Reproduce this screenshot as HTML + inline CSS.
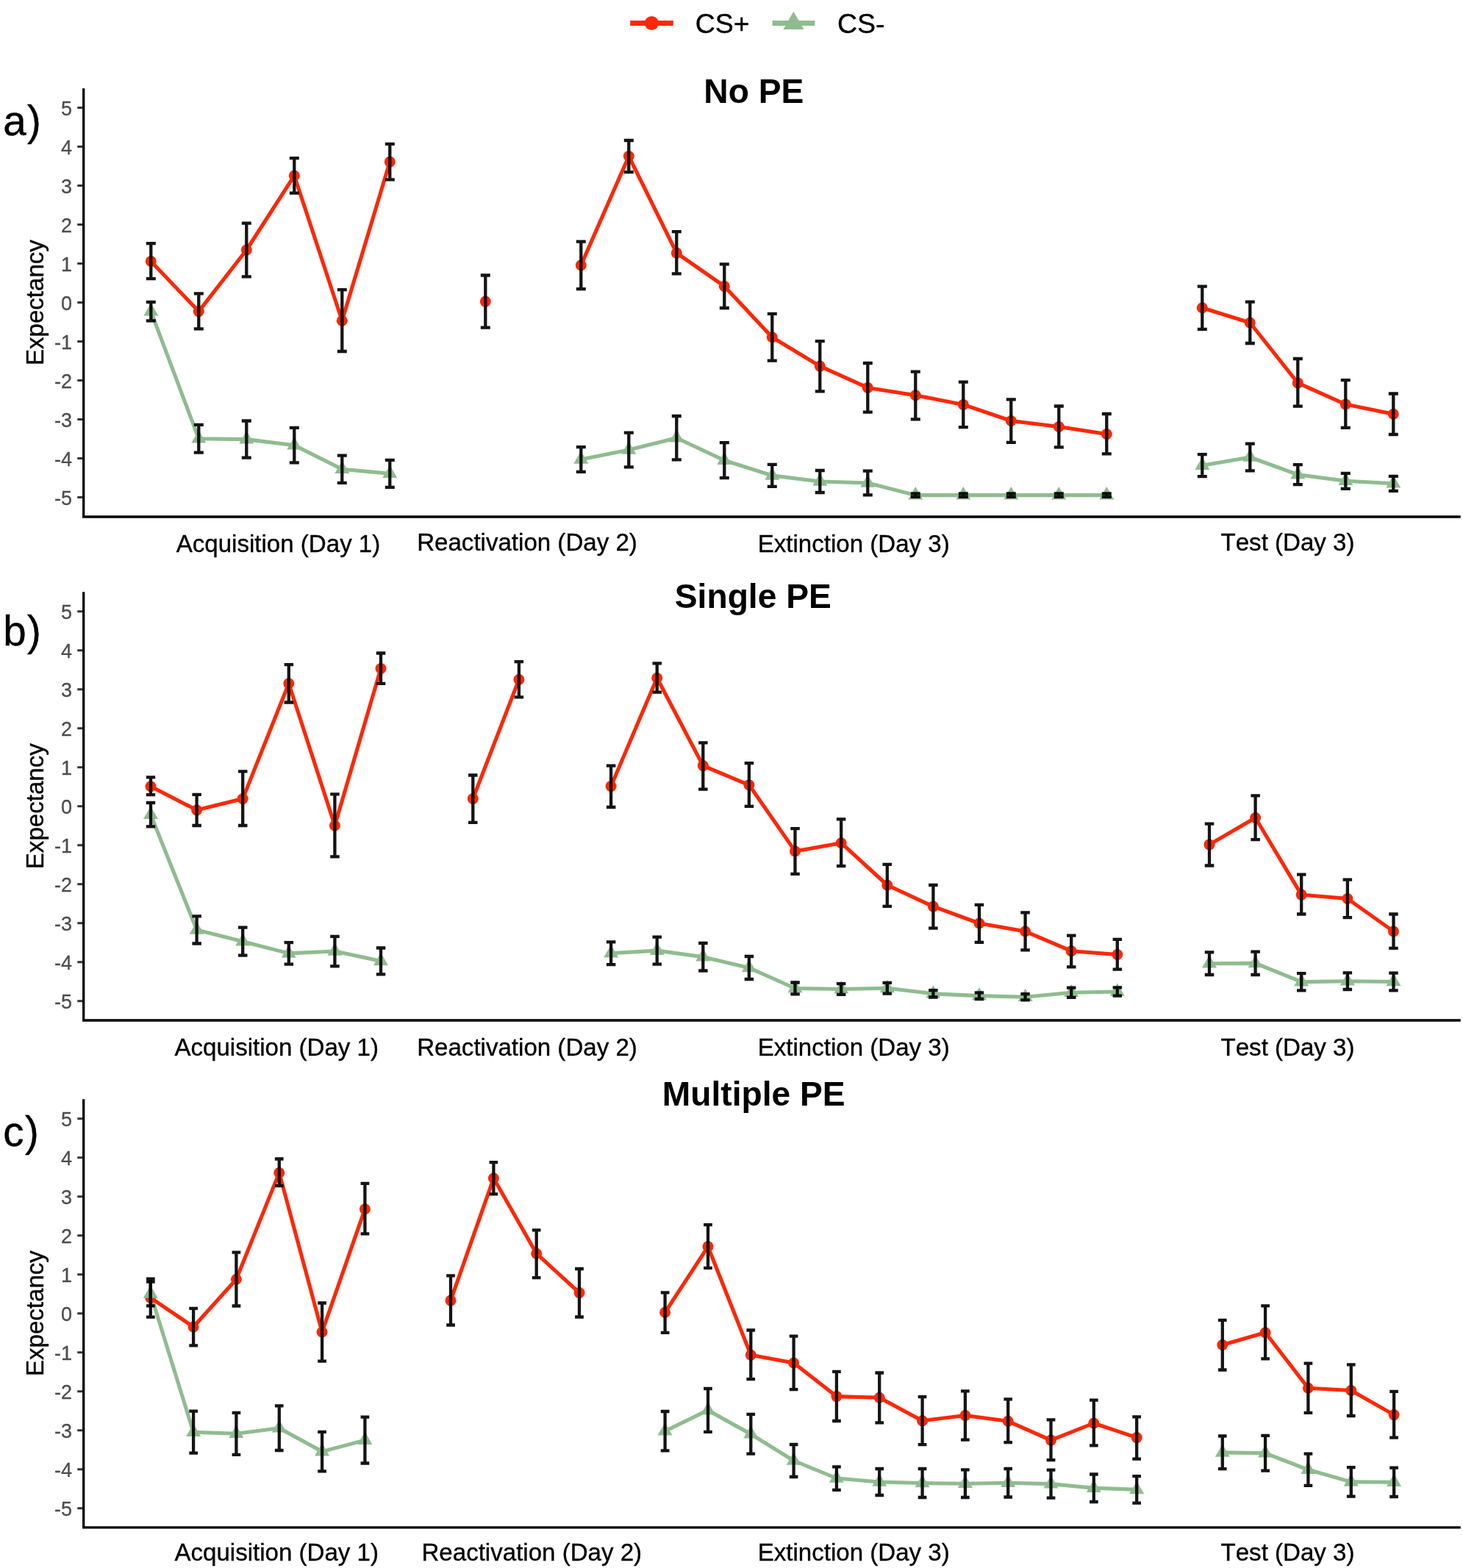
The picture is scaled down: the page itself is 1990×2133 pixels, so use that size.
<!DOCTYPE html>
<html lang="en">
<head>
<meta charset="utf-8">
<title>Expectancy ratings: No PE, Single PE, Multiple PE</title>
<style>
html,body{margin:0;padding:0;background:#fff;}
body{width:1990px;height:2133px;}
svg{display:block;}
text{font-family:"Liberation Sans",Arial,Helvetica,sans-serif;fill:#000;font-kerning:none;}
.leg{font-size:37.5px;stroke:#000;stroke-width:0.35px;}
.tk{font-size:27px;fill:#4D4D4D;text-anchor:end;stroke:#4D4D4D;stroke-width:0.3px;}
.ax{font-size:33.1px;stroke:#000;stroke-width:0.35px;}
.ttl{font-size:46.2px;font-weight:bold;}
.tag{font-size:56.5px;letter-spacing:1.5px;stroke:#000;stroke-width:0.4px;}
</style>
</head>
<body>
<svg width="1990" height="2133" viewBox="0 0 1990 2133" role="img" aria-label="Expectancy ratings for CS+ and CS- across Acquisition, Reactivation, Extinction and Test in the No PE, Single PE and Multiple PE groups">
<rect width="1990" height="2133" fill="#fff"/>
<g id="legend">
<line x1="857.2" y1="31.6" x2="915.8" y2="31.6" stroke="#FB2808" stroke-width="7"/>
<circle cx="886.4" cy="31.5" r="9.6" fill="#FB2808"/>
<text class="leg" x="945.7" y="44.6">CS+</text>
<line x1="1050.6" y1="31.6" x2="1108.4" y2="31.6" stroke="#8FBC8F" stroke-width="7"/>
<path d="M1079.4 15.7L1093.4 40L1065.4 40Z" fill="#8FBC8F"/>
<text class="leg" x="1138.9" y="44.6">CS-</text>
</g>
<g class="panel">
<polyline points="205.3,423.6 270.3,596.8 335.3,597.6 400.3,605.7 465.3,638.3 530.3,644.3" fill="none" stroke="#8FBC8F" stroke-width="5.1" stroke-linejoin="round" stroke-linecap="butt"/>
<polyline points="790.3,624.9 855.3,612 920.3,595.7 985.3,626.2 1050.3,646.9 1115.3,655 1180.3,657 1245.3,673.6 1310.3,673.6 1375.3,673.6 1440.3,673.6 1505.3,673.6" fill="none" stroke="#8FBC8F" stroke-width="5.1" stroke-linejoin="round" stroke-linecap="butt"/>
<polyline points="1635.3,633.2 1700.3,622 1765.3,645.7 1830.3,654.3 1895.3,657.8" fill="none" stroke="#8FBC8F" stroke-width="5.1" stroke-linejoin="round" stroke-linecap="butt"/>
<polyline points="205.3,355.4 270.3,423.6 335.3,340 400.3,239 465.3,436.2 530.3,220.1" fill="none" stroke="#FB2808" stroke-width="5.1" stroke-linejoin="round" stroke-linecap="butt"/>
<polyline points="790.3,360.8 855.3,212.5 920.3,344.1 985.3,389.4 1050.3,458.8 1115.3,498.1 1180.3,527.4 1245.3,537.7 1310.3,550.4 1375.3,572.5 1440.3,580.5 1505.3,590.5" fill="none" stroke="#FB2808" stroke-width="5.1" stroke-linejoin="round" stroke-linecap="butt"/>
<polyline points="1635.3,418.8 1700.3,439 1765.3,520.9 1830.3,550 1895.3,563.2" fill="none" stroke="#FB2808" stroke-width="5.1" stroke-linejoin="round" stroke-linecap="butt"/>
<circle cx="205.3" cy="355.4" r="7.5" fill="#FB2808"/>
<circle cx="270.3" cy="423.6" r="7.5" fill="#FB2808"/>
<circle cx="335.3" cy="340" r="7.5" fill="#FB2808"/>
<circle cx="400.3" cy="239" r="7.5" fill="#FB2808"/>
<circle cx="465.3" cy="436.2" r="7.5" fill="#FB2808"/>
<circle cx="530.3" cy="220.1" r="7.5" fill="#FB2808"/>
<circle cx="660.3" cy="410.1" r="7.5" fill="#FB2808"/>
<circle cx="790.3" cy="360.8" r="7.5" fill="#FB2808"/>
<circle cx="855.3" cy="212.5" r="7.5" fill="#FB2808"/>
<circle cx="920.3" cy="344.1" r="7.5" fill="#FB2808"/>
<circle cx="985.3" cy="389.4" r="7.5" fill="#FB2808"/>
<circle cx="1050.3" cy="458.8" r="7.5" fill="#FB2808"/>
<circle cx="1115.3" cy="498.1" r="7.5" fill="#FB2808"/>
<circle cx="1180.3" cy="527.4" r="7.5" fill="#FB2808"/>
<circle cx="1245.3" cy="537.7" r="7.5" fill="#FB2808"/>
<circle cx="1310.3" cy="550.4" r="7.5" fill="#FB2808"/>
<circle cx="1375.3" cy="572.5" r="7.5" fill="#FB2808"/>
<circle cx="1440.3" cy="580.5" r="7.5" fill="#FB2808"/>
<circle cx="1505.3" cy="590.5" r="7.5" fill="#FB2808"/>
<circle cx="1635.3" cy="418.8" r="7.5" fill="#FB2808"/>
<circle cx="1700.3" cy="439" r="7.5" fill="#FB2808"/>
<circle cx="1765.3" cy="520.9" r="7.5" fill="#FB2808"/>
<circle cx="1830.3" cy="550" r="7.5" fill="#FB2808"/>
<circle cx="1895.3" cy="563.2" r="7.5" fill="#FB2808"/>
<path d="M205.3 412.1L215.3 429.4L195.3 429.4Z" fill="#8FBC8F"/>
<path d="M270.3 585.3L280.3 602.6L260.3 602.6Z" fill="#8FBC8F"/>
<path d="M335.3 586.1L345.3 603.4L325.3 603.4Z" fill="#8FBC8F"/>
<path d="M400.3 594.2L410.3 611.5L390.3 611.5Z" fill="#8FBC8F"/>
<path d="M465.3 626.8L475.3 644.1L455.3 644.1Z" fill="#8FBC8F"/>
<path d="M530.3 632.8L540.3 650.1L520.3 650.1Z" fill="#8FBC8F"/>
<path d="M790.3 613.4L800.3 630.7L780.3 630.7Z" fill="#8FBC8F"/>
<path d="M855.3 600.5L865.3 617.8L845.3 617.8Z" fill="#8FBC8F"/>
<path d="M920.3 584.2L930.3 601.5L910.3 601.5Z" fill="#8FBC8F"/>
<path d="M985.3 614.7L995.3 632L975.3 632Z" fill="#8FBC8F"/>
<path d="M1050.3 635.4L1060.3 652.7L1040.3 652.7Z" fill="#8FBC8F"/>
<path d="M1115.3 643.5L1125.3 660.8L1105.3 660.8Z" fill="#8FBC8F"/>
<path d="M1180.3 645.5L1190.3 662.8L1170.3 662.8Z" fill="#8FBC8F"/>
<path d="M1245.3 662.1L1255.3 679.4L1235.3 679.4Z" fill="#8FBC8F"/>
<path d="M1310.3 662.1L1320.3 679.4L1300.3 679.4Z" fill="#8FBC8F"/>
<path d="M1375.3 662.1L1385.3 679.4L1365.3 679.4Z" fill="#8FBC8F"/>
<path d="M1440.3 662.1L1450.3 679.4L1430.3 679.4Z" fill="#8FBC8F"/>
<path d="M1505.3 662.1L1515.3 679.4L1495.3 679.4Z" fill="#8FBC8F"/>
<path d="M1635.3 621.7L1645.3 639L1625.3 639Z" fill="#8FBC8F"/>
<path d="M1700.3 610.5L1710.3 627.8L1690.3 627.8Z" fill="#8FBC8F"/>
<path d="M1765.3 634.2L1775.3 651.5L1755.3 651.5Z" fill="#8FBC8F"/>
<path d="M1830.3 642.8L1840.3 660.1L1820.3 660.1Z" fill="#8FBC8F"/>
<path d="M1895.3 646.3L1905.3 663.6L1885.3 663.6Z" fill="#8FBC8F"/>
<g fill="none" stroke="#000000" stroke-opacity="0.92" stroke-width="4.3">
<path d="M198.8 331.1H211.8M205.3 331.1V379.1M198.8 379.1H211.8"/>
<path d="M263.8 399.3H276.8M270.3 399.3V447.3M263.8 447.3H276.8"/>
<path d="M328.8 303.6H341.8M335.3 303.6V376.4M328.8 376.4H341.8"/>
<path d="M393.8 215.2H406.8M400.3 215.2V262.7M393.8 262.7H406.8"/>
<path d="M458.8 394.2H471.8M465.3 394.2V478M458.8 478H471.8"/>
<path d="M523.8 195.8H536.8M530.3 195.8V244.3M523.8 244.3H536.8"/>
<path d="M653.8 374.5H666.8M660.3 374.5V445.7M653.8 445.7H666.8"/>
<path d="M783.8 328.7H796.8M790.3 328.7V393.1M783.8 393.1H796.8"/>
<path d="M848.8 191H861.8M855.3 191V234.1M848.8 234.1H861.8"/>
<path d="M913.8 315.2H926.8M920.3 315.2V372.4M913.8 372.4H926.8"/>
<path d="M978.8 359.4H991.8M985.3 359.4V419M978.8 419H991.8"/>
<path d="M1043.8 426.8H1056.8M1050.3 426.8V490.7M1043.8 490.7H1056.8"/>
<path d="M1108.8 464.1H1121.8M1115.3 464.1V532.3M1108.8 532.3H1121.8"/>
<path d="M1173.8 494H1186.8M1180.3 494V560.6M1173.8 560.6H1186.8"/>
<path d="M1238.8 505.6H1251.8M1245.3 505.6V570.3M1238.8 570.3H1251.8"/>
<path d="M1303.8 519.6H1316.8M1310.3 519.6V581.1M1303.8 581.1H1316.8"/>
<path d="M1368.8 543.3H1381.8M1375.3 543.3V601.8M1368.8 601.8H1381.8"/>
<path d="M1433.8 552.5H1446.8M1440.3 552.5V608.3M1433.8 608.3H1446.8"/>
<path d="M1498.8 563H1511.8M1505.3 563V617.4M1498.8 617.4H1511.8"/>
<path d="M1628.8 389.6H1641.8M1635.3 389.6V447.9M1628.8 447.9H1641.8"/>
<path d="M1693.8 410.7H1706.8M1700.3 410.7V467M1693.8 467H1706.8"/>
<path d="M1758.8 488H1771.8M1765.3 488V552.7M1758.8 552.7H1771.8"/>
<path d="M1823.8 517.1H1836.8M1830.3 517.1V581.8M1823.8 581.8H1836.8"/>
<path d="M1888.8 535.5H1901.8M1895.3 535.5V591M1888.8 591H1901.8"/>
<path d="M198.8 410.8H211.8M205.3 410.8V436.4M198.8 436.4H211.8"/>
<path d="M263.8 577.9H276.8M270.3 577.9V615.6M263.8 615.6H276.8"/>
<path d="M328.8 572.5H341.8M335.3 572.5V622.6M328.8 622.6H341.8"/>
<path d="M393.8 581.9H406.8M400.3 581.9V629.4M393.8 629.4H406.8"/>
<path d="M458.8 619.7H471.8M465.3 619.7V656.9M458.8 656.9H471.8"/>
<path d="M523.8 625.9H536.8M530.3 625.9V662.8M523.8 662.8H536.8"/>
<path d="M783.8 608.1H796.8M790.3 608.1V641.8M783.8 641.8H796.8"/>
<path d="M848.8 588.7H861.8M855.3 588.7V635.3M848.8 635.3H861.8"/>
<path d="M913.8 566H926.8M920.3 566V625.3M913.8 625.3H926.8"/>
<path d="M978.8 602.2H991.8M985.3 602.2V650.1M978.8 650.1H991.8"/>
<path d="M1043.8 631.9H1056.8M1050.3 631.9V661.9M1043.8 661.9H1056.8"/>
<path d="M1108.8 640H1121.8M1115.3 640V670M1108.8 670H1121.8"/>
<path d="M1173.8 640.6H1186.8M1180.3 640.6V673.4M1173.8 673.4H1186.8"/>
<path d="M1238.8 671.4H1251.8M1245.3 671.4V675.8M1238.8 675.8H1251.8"/>
<path d="M1303.8 671.4H1316.8M1310.3 671.4V675.8M1303.8 675.8H1316.8"/>
<path d="M1368.8 671.4H1381.8M1375.3 671.4V675.8M1368.8 675.8H1381.8"/>
<path d="M1433.8 671.4H1446.8M1440.3 671.4V675.8M1433.8 675.8H1446.8"/>
<path d="M1498.8 671.4H1511.8M1505.3 671.4V675.8M1498.8 675.8H1511.8"/>
<path d="M1628.8 618.2H1641.8M1635.3 618.2V648.1M1628.8 648.1H1641.8"/>
<path d="M1693.8 603.7H1706.8M1700.3 603.7V640.3M1693.8 640.3H1706.8"/>
<path d="M1758.8 632.2H1771.8M1765.3 632.2V659.2M1758.8 659.2H1771.8"/>
<path d="M1823.8 643.8H1836.8M1830.3 643.8V664.9M1823.8 664.9H1836.8"/>
<path d="M1888.8 647.9H1901.8M1895.3 647.9V667.8M1888.8 667.8H1901.8"/>
</g>
<path d="M113.7 122V703H1985.1" fill="none" stroke="#000" stroke-width="3.3" stroke-linecap="square"/>
<text class="tk" x="98" y="687">-5</text>
<text class="tk" x="98" y="634">-4</text>
<text class="tk" x="98" y="581">-3</text>
<text class="tk" x="98" y="528">-2</text>
<text class="tk" x="98" y="475">-1</text>
<text class="tk" x="98" y="422">0</text>
<text class="tk" x="98" y="369">1</text>
<text class="tk" x="98" y="316">2</text>
<text class="tk" x="98" y="263">3</text>
<text class="tk" x="98" y="210">4</text>
<text class="tk" x="98" y="157">5</text>
<path d="M105.3 676.6H112.3M105.3 623.6H112.3M105.3 570.6H112.3M105.3 517.6H112.3M105.3 464.6H112.3M105.3 411.6H112.3M105.3 358.6H112.3M105.3 305.6H112.3M105.3 252.6H112.3M105.3 199.6H112.3M105.3 146.6H112.3" fill="none" stroke="#333333" stroke-width="3"/>
<text class="ax" text-anchor="middle" transform="translate(59.4 411.6) rotate(-90)">Expectancy</text>
<text class="ax" text-anchor="middle" x="378.5" y="750.6">Acquisition (Day 1)</text>
<text class="ax" text-anchor="middle" x="717" y="749.2">Reactivation (Day 2)</text>
<text class="ax" text-anchor="middle" x="1161.2" y="750.6">Extinction (Day 3)</text>
<text class="ax" text-anchor="middle" x="1751.5" y="749.1">Test (Day 3)</text>
<text class="ttl" text-anchor="middle" x="1025.3" y="140.2">No PE</text>
<text class="tag" x="4.2" y="183.5">a)</text>
</g>
<g class="panel">
<polyline points="205,1108.2 267.6,1264.9 330.2,1280.7 392.8,1296.9 455.4,1294 518,1307.4" fill="none" stroke="#8FBC8F" stroke-width="5.1" stroke-linejoin="round" stroke-linecap="butt"/>
<polyline points="831.1,1296.7 893.7,1293.1 956.3,1301.7 1018.9,1316.5 1081.5,1344.5 1144.2,1345.5 1206.8,1344.3 1269.4,1351.8 1332,1354.6 1394.6,1356.3 1457.2,1350.2 1519.8,1349" fill="none" stroke="#8FBC8F" stroke-width="5.1" stroke-linejoin="round" stroke-linecap="butt"/>
<polyline points="1645,1310.7 1707.6,1310.4 1770.2,1335.7 1832.9,1334.7 1895.5,1335.5" fill="none" stroke="#8FBC8F" stroke-width="5.1" stroke-linejoin="round" stroke-linecap="butt"/>
<polyline points="205,1069.7 267.6,1102 330.2,1086.6 392.8,929.7 455.4,1123 518,909.5" fill="none" stroke="#FB2808" stroke-width="5.1" stroke-linejoin="round" stroke-linecap="butt"/>
<polyline points="643.3,1086.5 705.9,924.4" fill="none" stroke="#FB2808" stroke-width="5.1" stroke-linejoin="round" stroke-linecap="butt"/>
<polyline points="831.1,1069.6 893.7,922.2 956.3,1041.6 1018.9,1067.8 1081.5,1157.9 1144.2,1146.7 1206.8,1204 1269.4,1233.1 1332,1256 1394.6,1267 1457.2,1293.7 1519.8,1298.5" fill="none" stroke="#FB2808" stroke-width="5.1" stroke-linejoin="round" stroke-linecap="butt"/>
<polyline points="1645,1148.9 1707.6,1112.5 1770.2,1217.1 1832.9,1222.5 1895.5,1267" fill="none" stroke="#FB2808" stroke-width="5.1" stroke-linejoin="round" stroke-linecap="butt"/>
<circle cx="205" cy="1069.7" r="7.5" fill="#FB2808"/>
<circle cx="267.6" cy="1102" r="7.5" fill="#FB2808"/>
<circle cx="330.2" cy="1086.6" r="7.5" fill="#FB2808"/>
<circle cx="392.8" cy="929.7" r="7.5" fill="#FB2808"/>
<circle cx="455.4" cy="1123" r="7.5" fill="#FB2808"/>
<circle cx="518" cy="909.5" r="7.5" fill="#FB2808"/>
<circle cx="643.3" cy="1086.5" r="7.5" fill="#FB2808"/>
<circle cx="705.9" cy="924.4" r="7.5" fill="#FB2808"/>
<circle cx="831.1" cy="1069.6" r="7.5" fill="#FB2808"/>
<circle cx="893.7" cy="922.2" r="7.5" fill="#FB2808"/>
<circle cx="956.3" cy="1041.6" r="7.5" fill="#FB2808"/>
<circle cx="1018.9" cy="1067.8" r="7.5" fill="#FB2808"/>
<circle cx="1081.5" cy="1157.9" r="7.5" fill="#FB2808"/>
<circle cx="1144.2" cy="1146.7" r="7.5" fill="#FB2808"/>
<circle cx="1206.8" cy="1204" r="7.5" fill="#FB2808"/>
<circle cx="1269.4" cy="1233.1" r="7.5" fill="#FB2808"/>
<circle cx="1332" cy="1256" r="7.5" fill="#FB2808"/>
<circle cx="1394.6" cy="1267" r="7.5" fill="#FB2808"/>
<circle cx="1457.2" cy="1293.7" r="7.5" fill="#FB2808"/>
<circle cx="1519.8" cy="1298.5" r="7.5" fill="#FB2808"/>
<circle cx="1645" cy="1148.9" r="7.5" fill="#FB2808"/>
<circle cx="1707.6" cy="1112.5" r="7.5" fill="#FB2808"/>
<circle cx="1770.2" cy="1217.1" r="7.5" fill="#FB2808"/>
<circle cx="1832.9" cy="1222.5" r="7.5" fill="#FB2808"/>
<circle cx="1895.5" cy="1267" r="7.5" fill="#FB2808"/>
<path d="M205 1096.7L215 1114L195 1114Z" fill="#8FBC8F"/>
<path d="M267.6 1253.4L277.6 1270.7L257.6 1270.7Z" fill="#8FBC8F"/>
<path d="M330.2 1269.2L340.2 1286.5L320.2 1286.5Z" fill="#8FBC8F"/>
<path d="M392.8 1285.4L402.8 1302.7L382.8 1302.7Z" fill="#8FBC8F"/>
<path d="M455.4 1282.5L465.4 1299.8L445.4 1299.8Z" fill="#8FBC8F"/>
<path d="M518 1295.9L528 1313.2L508 1313.2Z" fill="#8FBC8F"/>
<path d="M831.1 1285.2L841.1 1302.5L821.1 1302.5Z" fill="#8FBC8F"/>
<path d="M893.7 1281.6L903.7 1298.9L883.7 1298.9Z" fill="#8FBC8F"/>
<path d="M956.3 1290.2L966.3 1307.5L946.3 1307.5Z" fill="#8FBC8F"/>
<path d="M1018.9 1305L1028.9 1322.3L1008.9 1322.3Z" fill="#8FBC8F"/>
<path d="M1081.5 1333L1091.5 1350.3L1071.5 1350.3Z" fill="#8FBC8F"/>
<path d="M1144.2 1334L1154.2 1351.3L1134.2 1351.3Z" fill="#8FBC8F"/>
<path d="M1206.8 1332.8L1216.8 1350.1L1196.8 1350.1Z" fill="#8FBC8F"/>
<path d="M1269.4 1340.3L1279.4 1357.6L1259.4 1357.6Z" fill="#8FBC8F"/>
<path d="M1332 1343.1L1342 1360.4L1322 1360.4Z" fill="#8FBC8F"/>
<path d="M1394.6 1344.8L1404.6 1362.1L1384.6 1362.1Z" fill="#8FBC8F"/>
<path d="M1457.2 1338.7L1467.2 1356L1447.2 1356Z" fill="#8FBC8F"/>
<path d="M1519.8 1337.5L1529.8 1354.8L1509.8 1354.8Z" fill="#8FBC8F"/>
<path d="M1645 1299.2L1655 1316.5L1635 1316.5Z" fill="#8FBC8F"/>
<path d="M1707.6 1298.9L1717.6 1316.2L1697.6 1316.2Z" fill="#8FBC8F"/>
<path d="M1770.2 1324.2L1780.2 1341.5L1760.2 1341.5Z" fill="#8FBC8F"/>
<path d="M1832.9 1323.2L1842.9 1340.5L1822.9 1340.5Z" fill="#8FBC8F"/>
<path d="M1895.5 1324L1905.5 1341.3L1885.5 1341.3Z" fill="#8FBC8F"/>
<g fill="none" stroke="#000000" stroke-opacity="0.92" stroke-width="4.3">
<path d="M198.8 1057.4H211.2M205 1057.4V1081.2M198.8 1081.2H211.2"/>
<path d="M261.4 1080.9H273.9M267.6 1080.9V1123M261.4 1123H273.9"/>
<path d="M324 1049.4H336.5M330.2 1049.4V1123M324 1123H336.5"/>
<path d="M386.6 904.1H399.1M392.8 904.1V955.5M386.6 955.5H399.1"/>
<path d="M449.2 1080.4H461.7M455.4 1080.4V1165.3M449.2 1165.3H461.7"/>
<path d="M511.8 888.5H524.3M518 888.5V929.8M511.8 929.8H524.3"/>
<path d="M637 1054.5H649.5M643.3 1054.5V1118.8M637 1118.8H649.5"/>
<path d="M699.6 900.1H712.1M705.9 900.1V948.4M699.6 948.4H712.1"/>
<path d="M824.9 1041.6H837.4M831.1 1041.6V1098M824.9 1098H837.4"/>
<path d="M887.5 902.3H900M893.7 902.3V941.6M887.5 941.6H900"/>
<path d="M950.1 1010.4H962.6M956.3 1010.4V1073.7M950.1 1073.7H962.6"/>
<path d="M1012.7 1038.1H1025.2M1018.9 1038.1V1096.9M1012.7 1096.9H1025.2"/>
<path d="M1075.3 1127.1H1087.8M1081.5 1127.1V1188.9M1075.3 1188.9H1087.8"/>
<path d="M1137.9 1114.3H1150.4M1144.2 1114.3V1178.2M1137.9 1178.2H1150.4"/>
<path d="M1200.5 1175.9H1213M1206.8 1175.9V1232.8M1200.5 1232.8H1213"/>
<path d="M1263.1 1204H1275.6M1269.4 1204V1262.7M1263.1 1262.7H1275.6"/>
<path d="M1325.7 1230.9H1338.2M1332 1230.9V1281.9M1325.7 1281.9H1338.2"/>
<path d="M1388.3 1241.4H1400.8M1394.6 1241.4V1292.4M1388.3 1292.4H1400.8"/>
<path d="M1451 1272.7H1463.5M1457.2 1272.7V1315.3M1451 1315.3H1463.5"/>
<path d="M1513.6 1277.8H1526.1M1519.8 1277.8V1318.7M1513.6 1318.7H1526.1"/>
<path d="M1638.8 1120.6H1651.3M1645 1120.6V1177.5M1638.8 1177.5H1651.3"/>
<path d="M1701.4 1082.3H1713.9M1707.6 1082.3V1142.2M1701.4 1142.2H1713.9"/>
<path d="M1764 1189.6H1776.5M1770.2 1189.6V1243.5M1764 1243.5H1776.5"/>
<path d="M1826.6 1196.6H1839.1M1832.9 1196.6V1248.1M1826.6 1248.1H1839.1"/>
<path d="M1889.2 1243.5H1901.7M1895.5 1243.5V1289.9M1889.2 1289.9H1901.7"/>
<path d="M198.8 1092H211.2M205 1092V1124.4M198.8 1124.4H211.2"/>
<path d="M261.4 1246.3H273.9M267.6 1246.3V1283.5M261.4 1283.5H273.9"/>
<path d="M324 1261.7H336.5M330.2 1261.7V1299.7M324 1299.7H336.5"/>
<path d="M386.6 1282.2H399.1M392.8 1282.2V1311.6M386.6 1311.6H399.1"/>
<path d="M449.2 1273.8H461.7M455.4 1273.8V1314.3M449.2 1314.3H461.7"/>
<path d="M511.8 1289.5H524.3M518 1289.5V1325.3M511.8 1325.3H524.3"/>
<path d="M824.9 1281.4H837.4M831.1 1281.4V1312.1M824.9 1312.1H837.4"/>
<path d="M887.5 1274.6H900M893.7 1274.6V1311.6M887.5 1311.6H900"/>
<path d="M950.1 1283H962.6M956.3 1283V1320.5M950.1 1320.5H962.6"/>
<path d="M1012.7 1301H1025.2M1018.9 1301V1332M1012.7 1332H1025.2"/>
<path d="M1075.3 1336.5H1087.8M1081.5 1336.5V1352.4M1075.3 1352.4H1087.8"/>
<path d="M1137.9 1338.2H1150.4M1144.2 1338.2V1352.9M1137.9 1352.9H1150.4"/>
<path d="M1200.5 1336.8H1213M1206.8 1336.8V1351.7M1200.5 1351.7H1213"/>
<path d="M1263.1 1347.1H1275.6M1269.4 1347.1V1356.5M1263.1 1356.5H1275.6"/>
<path d="M1325.7 1350.3H1338.2M1332 1350.3V1359M1325.7 1359H1338.2"/>
<path d="M1388.3 1352.2H1400.8M1394.6 1352.2V1360.3M1388.3 1360.3H1400.8"/>
<path d="M1451 1343.6H1463.5M1457.2 1343.6V1356.8M1451 1356.8H1463.5"/>
<path d="M1513.6 1343.3H1526.1M1519.8 1343.3V1354.6M1513.6 1354.6H1526.1"/>
<path d="M1638.8 1295.3H1651.3M1645 1295.3V1326M1638.8 1326H1651.3"/>
<path d="M1701.4 1294.7H1713.9M1707.6 1294.7V1326M1701.4 1326H1713.9"/>
<path d="M1764 1324.1H1776.5M1770.2 1324.1V1347.3M1764 1347.3H1776.5"/>
<path d="M1826.6 1323.3H1839.1M1832.9 1323.3V1346M1826.6 1346H1839.1"/>
<path d="M1889.2 1323.6H1901.7M1895.5 1323.6V1347.3M1889.2 1347.3H1901.7"/>
</g>
<path d="M113.7 807V1388H1985.1" fill="none" stroke="#000" stroke-width="3.3" stroke-linecap="square"/>
<text class="tk" x="98" y="1372.1">-5</text>
<text class="tk" x="98" y="1319.1">-4</text>
<text class="tk" x="98" y="1266.1">-3</text>
<text class="tk" x="98" y="1213.1">-2</text>
<text class="tk" x="98" y="1160.1">-1</text>
<text class="tk" x="98" y="1107.1">0</text>
<text class="tk" x="98" y="1054.1">1</text>
<text class="tk" x="98" y="1001.1">2</text>
<text class="tk" x="98" y="948.1">3</text>
<text class="tk" x="98" y="895.1">4</text>
<text class="tk" x="98" y="842.1">5</text>
<path d="M105.3 1361.7H112.3M105.3 1308.7H112.3M105.3 1255.7H112.3M105.3 1202.7H112.3M105.3 1149.7H112.3M105.3 1096.7H112.3M105.3 1043.7H112.3M105.3 990.7H112.3M105.3 937.7H112.3M105.3 884.7H112.3M105.3 831.7H112.3" fill="none" stroke="#333333" stroke-width="3"/>
<text class="ax" text-anchor="middle" transform="translate(59.4 1096.7) rotate(-90)">Expectancy</text>
<text class="ax" text-anchor="middle" x="376.2" y="1435.5">Acquisition (Day 1)</text>
<text class="ax" text-anchor="middle" x="717" y="1435.5">Reactivation (Day 2)</text>
<text class="ax" text-anchor="middle" x="1161.2" y="1435.5">Extinction (Day 3)</text>
<text class="ax" text-anchor="middle" x="1751.5" y="1435.5">Test (Day 3)</text>
<text class="ttl" text-anchor="middle" x="1024.3" y="827.3">Single PE</text>
<text class="tag" x="4.2" y="878.4">b)</text>
</g>
<g class="panel">
<polyline points="204.8,1759.9 263.1,1948.2 321.4,1950.3 379.8,1942.7 438.1,1974.6 496.4,1959.1" fill="none" stroke="#8FBC8F" stroke-width="5.1" stroke-linejoin="round" stroke-linecap="butt"/>
<polyline points="904.6,1946.7 963,1918.4 1021.3,1950.8 1079.6,1987 1137.9,2011 1196.2,2016 1254.6,2017.5 1312.9,2018.2 1371.2,2017.2 1429.5,2018.6 1487.8,2024.2 1546.2,2026.4" fill="none" stroke="#8FBC8F" stroke-width="5.1" stroke-linejoin="round" stroke-linecap="butt"/>
<polyline points="1662.8,1975.9 1721.1,1976.8 1779.4,1999.3 1837.8,2015.9 1896.1,2016.3" fill="none" stroke="#8FBC8F" stroke-width="5.1" stroke-linejoin="round" stroke-linecap="butt"/>
<polyline points="204.8,1765.4 263.1,1805 321.4,1740.3 379.8,1595.4 438.1,1812 496.4,1644.7" fill="none" stroke="#FB2808" stroke-width="5.1" stroke-linejoin="round" stroke-linecap="butt"/>
<polyline points="613,1769.1 671.4,1602.8 729.7,1705.2 788,1758.6" fill="none" stroke="#FB2808" stroke-width="5.1" stroke-linejoin="round" stroke-linecap="butt"/>
<polyline points="904.6,1785.3 963,1695.8 1021.3,1843.2 1079.6,1854 1137.9,1899.6 1196.2,1901.2 1254.6,1932.7 1312.9,1925.5 1371.2,1933.3 1429.5,1959.1 1487.8,1936 1546.2,1955.6" fill="none" stroke="#FB2808" stroke-width="5.1" stroke-linejoin="round" stroke-linecap="butt"/>
<polyline points="1662.8,1829.5 1721.1,1812.8 1779.4,1888.2 1837.8,1891.5 1896.1,1924.6" fill="none" stroke="#FB2808" stroke-width="5.1" stroke-linejoin="round" stroke-linecap="butt"/>
<circle cx="204.8" cy="1765.4" r="7.5" fill="#FB2808"/>
<circle cx="263.1" cy="1805" r="7.5" fill="#FB2808"/>
<circle cx="321.4" cy="1740.3" r="7.5" fill="#FB2808"/>
<circle cx="379.8" cy="1595.4" r="7.5" fill="#FB2808"/>
<circle cx="438.1" cy="1812" r="7.5" fill="#FB2808"/>
<circle cx="496.4" cy="1644.7" r="7.5" fill="#FB2808"/>
<circle cx="613" cy="1769.1" r="7.5" fill="#FB2808"/>
<circle cx="671.4" cy="1602.8" r="7.5" fill="#FB2808"/>
<circle cx="729.7" cy="1705.2" r="7.5" fill="#FB2808"/>
<circle cx="788" cy="1758.6" r="7.5" fill="#FB2808"/>
<circle cx="904.6" cy="1785.3" r="7.5" fill="#FB2808"/>
<circle cx="963" cy="1695.8" r="7.5" fill="#FB2808"/>
<circle cx="1021.3" cy="1843.2" r="7.5" fill="#FB2808"/>
<circle cx="1079.6" cy="1854" r="7.5" fill="#FB2808"/>
<circle cx="1137.9" cy="1899.6" r="7.5" fill="#FB2808"/>
<circle cx="1196.2" cy="1901.2" r="7.5" fill="#FB2808"/>
<circle cx="1254.6" cy="1932.7" r="7.5" fill="#FB2808"/>
<circle cx="1312.9" cy="1925.5" r="7.5" fill="#FB2808"/>
<circle cx="1371.2" cy="1933.3" r="7.5" fill="#FB2808"/>
<circle cx="1429.5" cy="1959.1" r="7.5" fill="#FB2808"/>
<circle cx="1487.8" cy="1936" r="7.5" fill="#FB2808"/>
<circle cx="1546.2" cy="1955.6" r="7.5" fill="#FB2808"/>
<circle cx="1662.8" cy="1829.5" r="7.5" fill="#FB2808"/>
<circle cx="1721.1" cy="1812.8" r="7.5" fill="#FB2808"/>
<circle cx="1779.4" cy="1888.2" r="7.5" fill="#FB2808"/>
<circle cx="1837.8" cy="1891.5" r="7.5" fill="#FB2808"/>
<circle cx="1896.1" cy="1924.6" r="7.5" fill="#FB2808"/>
<path d="M204.8 1748.4L214.8 1765.7L194.8 1765.7Z" fill="#8FBC8F"/>
<path d="M263.1 1936.7L273.1 1954L253.1 1954Z" fill="#8FBC8F"/>
<path d="M321.4 1938.8L331.4 1956.1L311.4 1956.1Z" fill="#8FBC8F"/>
<path d="M379.8 1931.2L389.8 1948.5L369.8 1948.5Z" fill="#8FBC8F"/>
<path d="M438.1 1963.1L448.1 1980.4L428.1 1980.4Z" fill="#8FBC8F"/>
<path d="M496.4 1947.6L506.4 1964.9L486.4 1964.9Z" fill="#8FBC8F"/>
<path d="M904.6 1935.2L914.6 1952.5L894.6 1952.5Z" fill="#8FBC8F"/>
<path d="M963 1906.9L973 1924.2L953 1924.2Z" fill="#8FBC8F"/>
<path d="M1021.3 1939.3L1031.3 1956.6L1011.3 1956.6Z" fill="#8FBC8F"/>
<path d="M1079.6 1975.5L1089.6 1992.8L1069.6 1992.8Z" fill="#8FBC8F"/>
<path d="M1137.9 1999.5L1147.9 2016.8L1127.9 2016.8Z" fill="#8FBC8F"/>
<path d="M1196.2 2004.5L1206.2 2021.8L1186.2 2021.8Z" fill="#8FBC8F"/>
<path d="M1254.6 2006L1264.6 2023.3L1244.6 2023.3Z" fill="#8FBC8F"/>
<path d="M1312.9 2006.7L1322.9 2024L1302.9 2024Z" fill="#8FBC8F"/>
<path d="M1371.2 2005.7L1381.2 2023L1361.2 2023Z" fill="#8FBC8F"/>
<path d="M1429.5 2007.1L1439.5 2024.4L1419.5 2024.4Z" fill="#8FBC8F"/>
<path d="M1487.8 2012.7L1497.8 2030L1477.8 2030Z" fill="#8FBC8F"/>
<path d="M1546.2 2014.9L1556.2 2032.2L1536.2 2032.2Z" fill="#8FBC8F"/>
<path d="M1662.8 1964.4L1672.8 1981.7L1652.8 1981.7Z" fill="#8FBC8F"/>
<path d="M1721.1 1965.3L1731.1 1982.6L1711.1 1982.6Z" fill="#8FBC8F"/>
<path d="M1779.4 1987.8L1789.4 2005.1L1769.4 2005.1Z" fill="#8FBC8F"/>
<path d="M1837.8 2004.4L1847.8 2021.7L1827.8 2021.7Z" fill="#8FBC8F"/>
<path d="M1896.1 2004.8L1906.1 2022.1L1886.1 2022.1Z" fill="#8FBC8F"/>
<g fill="none" stroke="#000000" stroke-opacity="0.92" stroke-width="4.3">
<path d="M199 1739.6H210.7M204.8 1739.6V1791.7M199 1791.7H210.7"/>
<path d="M257.3 1779.9H269M263.1 1779.9V1830.3M257.3 1830.3H269"/>
<path d="M315.6 1703.7H327.3M321.4 1703.7V1776.5M315.6 1776.5H327.3"/>
<path d="M373.9 1576.5H385.6M379.8 1576.5V1613.2M373.9 1613.2H385.6"/>
<path d="M432.2 1772.5H443.9M438.1 1772.5V1851.6M432.2 1851.6H443.9"/>
<path d="M490.6 1609.8H502.3M496.4 1609.8V1678.4M490.6 1678.4H502.3"/>
<path d="M607.2 1735.4H618.9M613 1735.4V1802.5M607.2 1802.5H618.9"/>
<path d="M665.5 1581.2H677.2M671.4 1581.2V1624.4M665.5 1624.4H677.2"/>
<path d="M723.8 1673.4H735.5M729.7 1673.4V1738.1M723.8 1738.1H735.5"/>
<path d="M782.1 1726H793.9M788 1726V1791.5M782.1 1791.5H793.9"/>
<path d="M898.8 1758.3H910.5M904.6 1758.3V1812.8M898.8 1812.8H910.5"/>
<path d="M957.1 1666.1H968.8M963 1666.1V1724.9M957.1 1724.9H968.8"/>
<path d="M1015.4 1809.5H1027.1M1021.3 1809.5V1876.1M1015.4 1876.1H1027.1"/>
<path d="M1073.8 1817.6H1085.4M1079.6 1817.6V1890.1M1073.8 1890.1H1085.4"/>
<path d="M1132.1 1865.9H1143.8M1137.9 1865.9V1933M1132.1 1933H1143.8"/>
<path d="M1190.4 1867.5H1202.1M1196.2 1867.5V1935.4M1190.4 1935.4H1202.1"/>
<path d="M1248.7 1900.1H1260.4M1254.6 1900.1V1965.2M1248.7 1965.2H1260.4"/>
<path d="M1307 1892.4H1318.7M1312.9 1892.4V1958.6M1307 1958.6H1318.7"/>
<path d="M1365.4 1903.3H1377M1371.2 1903.3V1962.1M1365.4 1962.1H1377"/>
<path d="M1423.7 1931.4H1435.4M1429.5 1931.4V1986.1M1423.7 1986.1H1435.4"/>
<path d="M1482 1904.7H1493.7M1487.8 1904.7V1966.4M1482 1966.4H1493.7"/>
<path d="M1540.3 1927.3H1552M1546.2 1927.3V1984.7M1540.3 1984.7H1552"/>
<path d="M1657 1795.8H1668.6M1662.8 1795.8V1863.5M1657 1863.5H1668.6"/>
<path d="M1715.3 1776.4H1727M1721.1 1776.4V1848.4M1715.3 1848.4H1727"/>
<path d="M1773.6 1854.6H1785.3M1779.4 1854.6V1921.9M1773.6 1921.9H1785.3"/>
<path d="M1831.9 1856.4H1843.6M1837.8 1856.4V1926M1831.9 1926H1843.6"/>
<path d="M1890.2 1892.8H1901.9M1896.1 1892.8V1955.6M1890.2 1955.6H1901.9"/>
<path d="M199 1743.5H210.7M204.8 1743.5V1776.3M199 1776.3H210.7"/>
<path d="M257.3 1919.6H269M263.1 1919.6V1976.7M257.3 1976.7H269"/>
<path d="M315.6 1921.8H327.3M321.4 1921.8V1978.9M315.6 1978.9H327.3"/>
<path d="M373.9 1912.3H385.6M379.8 1912.3V1973M373.9 1973H385.6"/>
<path d="M432.2 1947.9H443.9M438.1 1947.9V2001.3M432.2 2001.3H443.9"/>
<path d="M490.6 1927.7H502.3M496.4 1927.7V1990.5M490.6 1990.5H502.3"/>
<path d="M898.8 1920H910.5M904.6 1920V1973.4M898.8 1973.4H910.5"/>
<path d="M957.1 1889H968.8M963 1889V1947.8M957.1 1947.8H968.8"/>
<path d="M1015.4 1923.8H1027.1M1021.3 1923.8V1977.7M1015.4 1977.7H1027.1"/>
<path d="M1073.8 1965H1085.4M1079.6 1965V2009M1073.8 2009H1085.4"/>
<path d="M1132.1 1995.3H1143.8M1137.9 1995.3V2026.8M1132.1 2026.8H1143.8"/>
<path d="M1190.4 1998H1202.1M1196.2 1998V2034M1190.4 2034H1202.1"/>
<path d="M1248.7 1998H1260.4M1254.6 1998V2037M1248.7 2037H1260.4"/>
<path d="M1307 1999.3H1318.7M1312.9 1999.3V2037M1307 2037H1318.7"/>
<path d="M1365.4 1998H1377M1371.2 1998V2036.5M1365.4 2036.5H1377"/>
<path d="M1423.7 1999.6H1435.4M1429.5 1999.6V2037.6M1423.7 2037.6H1435.4"/>
<path d="M1482 2005.5H1493.7M1487.8 2005.5V2043M1482 2043H1493.7"/>
<path d="M1540.3 2008.2H1552M1546.2 2008.2V2044.6M1540.3 2044.6H1552"/>
<path d="M1657 1953.5H1668.6M1662.8 1953.5V1998.2M1657 1998.2H1668.6"/>
<path d="M1715.3 1952.9H1727M1721.1 1952.9V2000.6M1715.3 2000.6H1727"/>
<path d="M1773.6 1977.7H1785.3M1779.4 1977.7V2020.9M1773.6 2020.9H1785.3"/>
<path d="M1831.9 1996.1H1843.6M1837.8 1996.1V2035.7M1831.9 2035.7H1843.6"/>
<path d="M1890.2 1996.6H1901.9M1896.1 1996.6V2036M1890.2 2036H1901.9"/>
</g>
<path d="M113.7 1497V2077.9H1985.1" fill="none" stroke="#000" stroke-width="3.3" stroke-linecap="square"/>
<text class="tk" x="98" y="2062.1">-5</text>
<text class="tk" x="98" y="2009.1">-4</text>
<text class="tk" x="98" y="1956.1">-3</text>
<text class="tk" x="98" y="1903.1">-2</text>
<text class="tk" x="98" y="1850.1">-1</text>
<text class="tk" x="98" y="1797.1">0</text>
<text class="tk" x="98" y="1744.1">1</text>
<text class="tk" x="98" y="1691.1">2</text>
<text class="tk" x="98" y="1638.1">3</text>
<text class="tk" x="98" y="1585.1">4</text>
<text class="tk" x="98" y="1532.1">5</text>
<path d="M105.3 2051.7H112.3M105.3 1998.7H112.3M105.3 1945.7H112.3M105.3 1892.7H112.3M105.3 1839.7H112.3M105.3 1786.7H112.3M105.3 1733.7H112.3M105.3 1680.7H112.3M105.3 1627.7H112.3M105.3 1574.7H112.3M105.3 1521.7H112.3" fill="none" stroke="#333333" stroke-width="3"/>
<text class="ax" text-anchor="middle" transform="translate(59.4 1786.6) rotate(-90)">Expectancy</text>
<text class="ax" text-anchor="middle" x="376.2" y="2122.8">Acquisition (Day 1)</text>
<text class="ax" text-anchor="middle" x="723.3" y="2122.8">Reactivation (Day 2)</text>
<text class="ax" text-anchor="middle" x="1161.2" y="2122.8">Extinction (Day 3)</text>
<text class="ax" text-anchor="middle" x="1751.5" y="2122.8">Test (Day 3)</text>
<text class="ttl" text-anchor="middle" x="1025.2" y="1504.3">Multiple PE</text>
<text class="tag" x="4.2" y="1558.9">c)</text>
</g>
</svg>
</body>
</html>
